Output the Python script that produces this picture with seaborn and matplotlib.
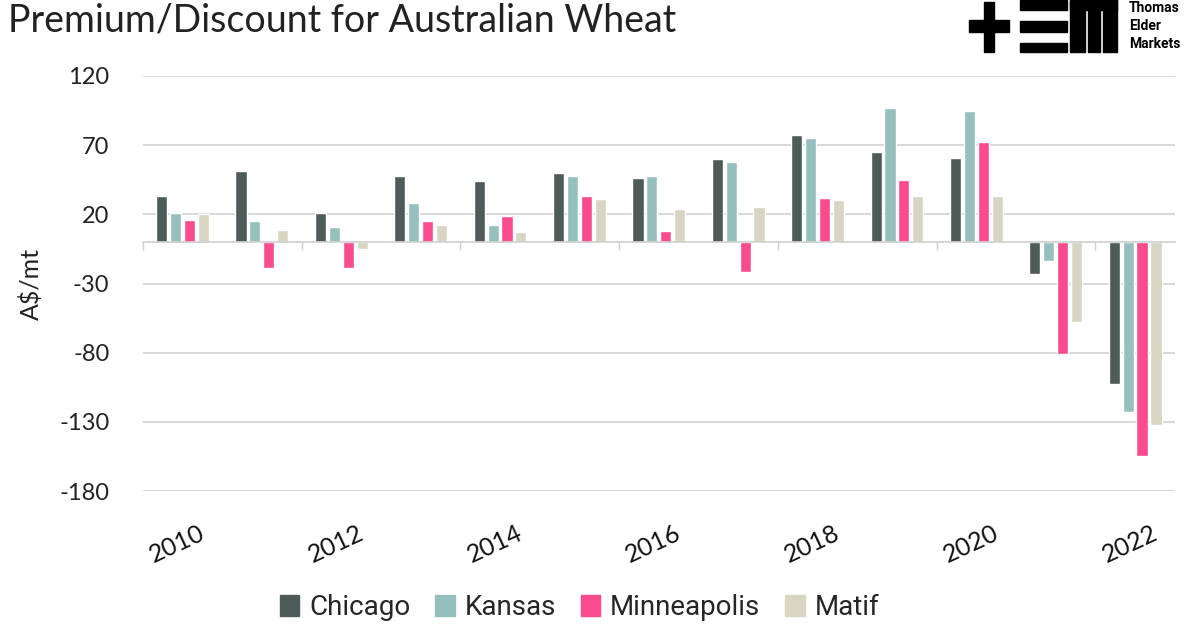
import warnings
warnings.filterwarnings("ignore")

import numpy as np
import pandas as pd
import matplotlib
matplotlib.use("Agg")
import matplotlib.pyplot as plt
import matplotlib.patches as mpatches
import matplotlib.transforms as mtransforms
import seaborn as sns

# ── data (A$/mt premium/discount) ─────────────────────────────────────────
years = [str(y) for y in range(2010, 2023)]
markets = ["Chicago", "Kansas", "Minneapolis", "Matif"]
chicago = [33, 51, 21, 48, 44, 50, 46, 60, 77, 65, 61, -23, -103]
kansas = [21, 15, 11, 28, 12, 48, 48, 58, 75, 97, 95, -14, -123]
minneapolis = [16, -19, -19, 15, 19, 33, 8, -22, 32, 45, 72, -81, -155]
matif = [20, 9, -5, 12, 7, 31, 24, 25, 30, 33, 33, -58, -132]
colors = ["#4e5b5b", "#96c0be", "#f94b8d", "#d8d6c3"]

df = pd.DataFrame({"year": years * 4,
                   "market": np.repeat(markets, len(years)),
                   "value": chicago + kansas + minneapolis + matif})

sns.set_theme(style="white")
plt.rcParams["font.family"] = ["Lato", "DejaVu Sans"]
plt.rcParams["axes.unicode_minus"] = False

fig = plt.figure(figsize=(12, 6.3), dpi=100)
ax = fig.add_axes([0.119, 0.2206, 0.86, 0.6588])

sns.barplot(data=df, x="year", y="value", hue="market", hue_order=markets,
            palette=colors, width=0.7, gap=0.2, ax=ax, legend=False,
            saturation=1)

ax.set_ylim(-180, 120)
ax.set_xlim(-0.5, len(years) - 0.5)
ax.set_yticks(range(-180, 121, 50))
ax.tick_params(axis="y", length=0, pad=24, labelsize=17, labelcolor="#222222")
ax.yaxis.grid(True, color="#d9d9d9", linewidth=1.5)
ax.set_axisbelow(True)
ax.set_ylabel("A$/mt", fontsize=18, color="#222222", labelpad=12)
ax.set_xlabel("")
for s in ["top", "right", "left"]:
    ax.spines[s].set_visible(False)

# category axis line sits at zero, with small boundary ticks
ax.spines["bottom"].set_position(("data", 0))
ax.spines["bottom"].set_color("#cfcfcf")
ax.spines["bottom"].set_linewidth(1.2)
ax.set_xticks(np.arange(-0.5, len(years), 2), minor=True)
ax.set_xticks([])
ax.tick_params(axis="x", which="minor", length=6, color="#cfcfcf",
               width=1, direction="out", bottom=True)

# year labels down at the bottom, every second year
sec = ax.secondary_xaxis(0.0)
sec.spines["bottom"].set_visible(False)
sec.set_xticks(range(0, len(years), 2))
sec.set_xticklabels(years[::2], rotation=25, ha="right",
                    rotation_mode="anchor", fontsize=18, color="#111111")
sec.tick_params(length=0, pad=22)
shift = mtransforms.ScaledTranslation(16 / 100, 0, fig.dpi_scale_trans)
for lbl in sec.get_xticklabels():
    lbl.set_transform(lbl.get_transform() + shift)

# title
fig.text(0.007, 0.968, "Premium/Discount for Australian Wheat",
         fontsize=27, color="#222222", va="center", ha="left")

# logo
def frect(x0, y0, w, h):
    fig.patches.append(mpatches.Rectangle((x0 / 1200, 1 - (y0 + h) / 630),
                                          w / 1200, h / 630,
                                          transform=fig.transFigure,
                                          color="black", zorder=5))

frect(969, 20, 40, 12)
frect(984, 2, 10, 50)
frect(1020, 0, 47, 10)
frect(1020, 21, 47, 11)
frect(1020, 43, 47, 9)
frect(1070, 0, 47, 10)
frect(1070, 0, 15, 52)
frect(1088, 0, 12, 52)
frect(1103, 0, 14, 52)
for i, word in enumerate(["Thomas", "Elder", "Markets"]):
    fig.text(1129 / 1200, 1 - (8 + i * 18) / 630, word, fontsize=10,
             fontweight="bold", color="black", va="center", ha="left",
             family=["Roboto", "DejaVu Sans"])

# legend
handles = [mpatches.Patch(color=c, label=m) for c, m in zip(colors, markets)]
fig.legend(handles=handles, loc="center", bbox_to_anchor=(0.483, 0.036),
           ncol=4, frameon=False, handlelength=0.7, handleheight=0.8,
           handletextpad=0.35, columnspacing=0.9,
           prop={"family": ["Liberation Sans Narrow", "Roboto", "DejaVu Sans"],
                 "size": 20})

fig.savefig("out.png", dpi=100)
